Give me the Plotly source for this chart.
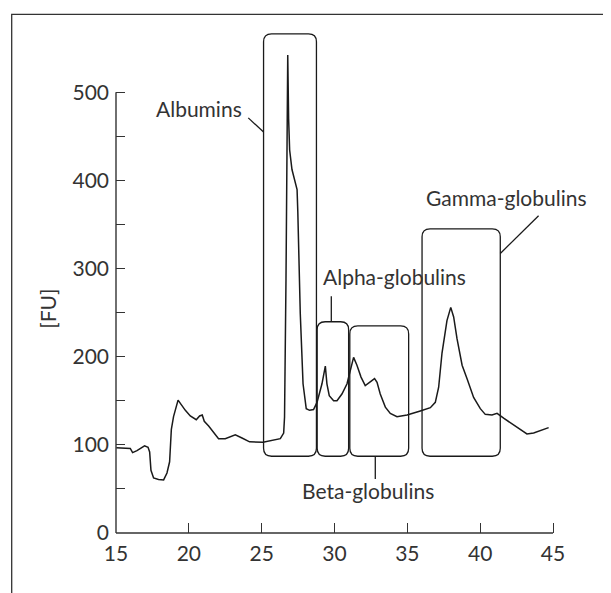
import plotly.graph_objects as go

# ---- data ----
migration_time = [15.02, 15.98, 16.14, 16.44, 16.96, 17.20, 17.31, 17.40, 17.58, 17.92, 18.27, 18.50, 18.68,
                  18.80, 18.95, 19.26, 19.76, 20.10, 20.51, 20.74, 20.92, 21.06, 21.36, 21.70, 22.04, 22.50,
                  23.19, 23.65, 24.17, 25.09, 25.71, 26.28, 26.51, 26.57, 26.67, 26.74, 26.79, 26.85, 26.92,
                  27.08, 27.31, 27.43, 27.48, 27.56, 27.65, 27.84, 28.06, 28.29, 28.56, 28.80, 29.14, 29.37,
                  29.48, 29.64, 29.94, 30.17, 30.51, 30.86, 31.08, 31.31, 31.54, 31.82, 32.11, 32.46, 32.75,
                  32.92, 33.14, 33.49, 33.83, 34.29, 34.98, 35.89, 36.58, 36.92, 37.15, 37.38, 37.72, 37.98,
                  38.18, 38.41, 38.76, 39.10, 39.55, 40.01, 40.35, 40.81, 41.16, 41.61, 42.07, 42.53, 43.21,
                  43.67, 44.70]
fluorescence = [96.7, 96.0, 91.2, 93.5, 98.9, 97.3, 91.9, 71.2, 62.4, 60.8, 60.2, 68.1, 80.8, 117.7, 132.0,
                150.8, 139.2, 132.8, 128.5, 132.8, 133.9, 126.7, 121.3, 114.2, 107.0, 107.0, 111.3, 107.8,
                103.4, 103.0, 105.2, 107.0, 113.4, 131.7, 288.4, 452.3, 542.2, 470.1, 434.6, 412.4, 397.3,
                389.7, 364.9, 303.8, 249.1, 169.3, 141.1, 139.2, 140.0, 148.2, 169.3, 189.3, 169.3, 155.8,
                150.0, 150.0, 157.7, 169.3, 184.6, 199.3, 190.4, 176.9, 167.3, 171.9, 175.1, 171.1, 157.7,
                142.8, 135.7, 132.0, 133.9, 138.5, 142.2, 148.2, 165.4, 204.2, 241.0, 256.0, 245.1, 220.5,
                190.4, 175.1, 153.8, 141.1, 134.6, 133.9, 135.7, 130.3, 125.0, 119.6, 112.4, 113.4, 119.6]

fraction_names = ["Albumins", "Alpha-globulins", "Beta-globulins", "Gamma-globulins"]
fraction_start = [25.13, 28.81, 31.05, 36.01]
fraction_end = [28.76, 30.97, 35.09, 41.38]
fraction_top = [566.4, 239.7, 234.9, 345.0]
fraction_bottom = [87.1, 87.1, 87.1, 87.1]

# label centres and leader lines (label end -> box end)
label_x = [20.72, 34.10, 32.28, 41.84]
label_y = [482.0, 291.0, 48.0, 381.0]
leader_x0 = [24.08, 29.78, 32.80, 44.01]
leader_y0 = [471.0, 268.6, 61.4, 360.0]
leader_x1 = [25.13, 29.78, 32.80, 41.38]
leader_y1 = [454.9, 239.7, 87.1, 317.1]

x_ticks = [15, 20, 25, 30, 35, 40, 45]
y_ticks = [0, 50, 100, 150, 200, 250, 300, 350, 400, 450, 500]
y_tick_text = ["0", "", "100", "", "200", "", "300", "", "400", "", "500"]

# ---- style ----
FONT = "Lato"
TXT = "#333333"
LINE = "#1a1a1a"
FS = 21

fig = go.Figure()
fig.add_trace(go.Scatter(x=migration_time, y=fluorescence, mode="lines",
                         line=dict(color=LINE, width=1.5), hoverinfo="skip", showlegend=False))

shapes = []
rx, ry = 0.55, 9.0
for x0, x1, y1, y0 in zip(fraction_start, fraction_end, fraction_top, fraction_bottom):
    p = (f"M {x0+rx},{y0} L {x1-rx},{y0} Q {x1},{y0} {x1},{y0+ry} "
         f"L {x1},{y1-ry} Q {x1},{y1} {x1-rx},{y1} L {x0+rx},{y1} Q {x0},{y1} {x0},{y1-ry} "
         f"L {x0},{y0+ry} Q {x0},{y0} {x0+rx},{y0} Z")
    shapes.append(dict(type="path", path=p, xref="x", yref="y",
                       line=dict(color=LINE, width=1.3), layer="above"))

for a, b, c, d in zip(leader_x0, leader_y0, leader_x1, leader_y1):
    shapes.append(dict(type="line", xref="x", yref="y", x0=a, y0=b, x1=c, y1=d,
                       line=dict(color=LINE, width=1.3)))

# axis lines
shapes.append(dict(type="line", xref="paper", yref="y", x0=0, x1=0, y0=0, y1=500,
                   line=dict(color="#333333", width=1.4)))
shapes.append(dict(type="line", xref="x", yref="paper", x0=15, x1=45, y0=0, y1=0,
                   line=dict(color="#333333", width=1.4)))
# frame
shapes.append(dict(type="rect", xref="paper", yref="paper", x0=-0.212, x1=0.999, y0=-0.2, y1=1.003,
                   line=dict(color="#333333", width=1.3), fillcolor="rgba(0,0,0,0)"))

annotations = []
for name, x, y in zip(fraction_names, label_x, label_y):
    annotations.append(dict(x=x, y=y, xref="x", yref="y", text=name, showarrow=False,
                            xanchor="center", yanchor="middle",
                            font=dict(family=FONT, size=FS, color=TXT)))
annotations.append(dict(x=-0.139, y=0.433, xref="paper", yref="paper", text="[FU]", showarrow=False,
                        textangle=-90, xanchor="center", yanchor="middle",
                        font=dict(family=FONT, size=FS, color=TXT)))

# the page body adds an 8 px margin, so the figure is 8 px smaller on each axis
fig.update_layout(
    width=603, height=585,
    margin=dict(l=108, r=3, t=8, b=60),
    paper_bgcolor="white", plot_bgcolor="white",
    shapes=shapes, annotations=annotations,
    showlegend=False,
    xaxis=dict(range=[15, 48.775], tickvals=x_ticks, ticktext=[str(v) for v in x_ticks],
               ticks="inside", ticklen=10, tickwidth=1.3, tickcolor="#333333",
               showline=False, showgrid=False, zeroline=False, ticklabelstandoff=6,
               tickfont=dict(family=FONT, size=FS, color=TXT)),
    yaxis=dict(range=[0, 586.6], tickvals=y_ticks, ticktext=y_tick_text,
               ticks="inside", ticklen=9, tickwidth=1.3, tickcolor="#333333",
               showline=False, showgrid=False, zeroline=False, ticklabelstandoff=6,
               tickfont=dict(family=FONT, size=FS, color=TXT)),
)

fig.write_html("out.html", config={"displayModeBar": False})
